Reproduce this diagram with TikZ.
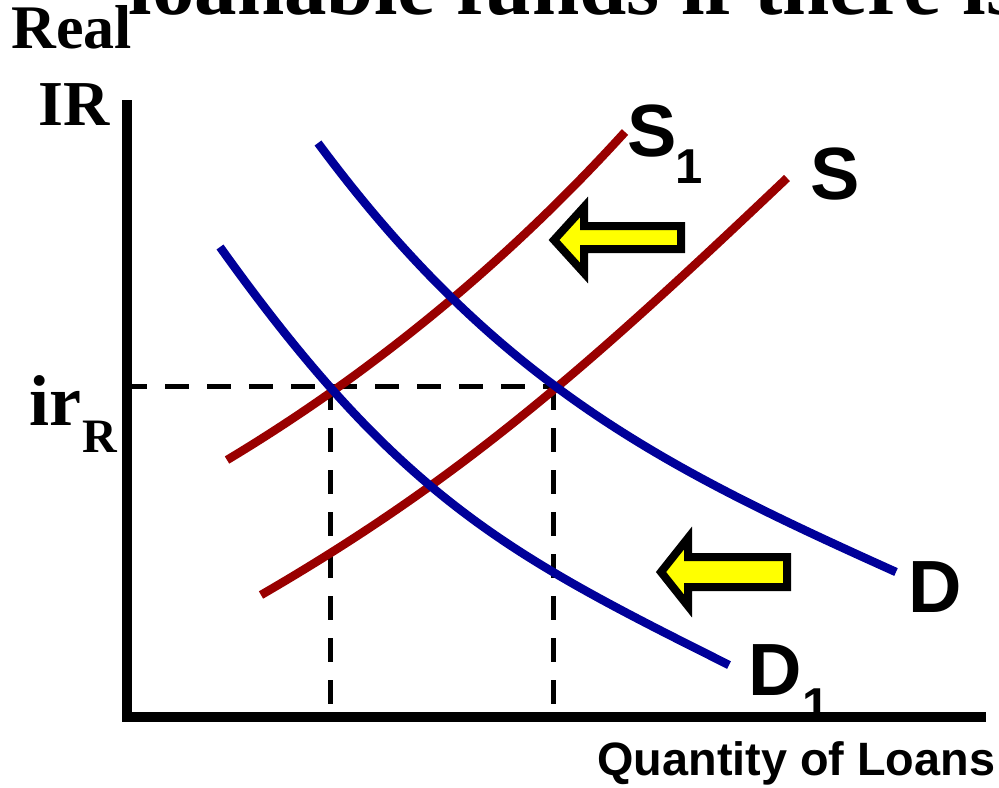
\documentclass[tikz,border=0pt]{standalone}
\usepackage{fontspec}
\setmainfont{Liberation Serif}
\setsansfont{Liberation Sans}
\definecolor{supred}{HTML}{990000}
\definecolor{demblue}{HTML}{000099}
\definecolor{arrowyellow}{HTML}{FFFF00}
\begin{document}
\begin{tikzpicture}[x=0.5pt,y=-0.5pt]
\tikzset{
  axisline/.style={line width=5pt, black},
  supcurve/.style={line width=4.25pt, supred},
  demcurve/.style={line width=4.25pt, demblue},
  guide/.style={line width=2.5pt, black, dash pattern=on 12pt off 9pt},
  shiftarrow/.style={fill=arrowyellow, draw=black, line width=4pt, line join=miter},
  sanlab/.style={font=\sffamily\bfseries\fontsize{37}{37}\selectfont, inner sep=0pt, anchor=base west},
  sansub/.style={font=\sffamily\bfseries\fontsize{24.5}{24.5}\selectfont, inner sep=0pt, anchor=base west},
}
\useasboundingbox (0,0) rectangle (999,787);
\clip (0,0) rectangle (999,787);
% title (cut off at top)
\node[font=\bfseries\fontsize{42.5}{42.5}\selectfont, inner sep=0pt, anchor=base west] (title) at (128,14) {loanable funds if there is};
% axis labels
\node[font=\bfseries\fontsize{31}{31}\selectfont, inner sep=0pt, anchor=base west] (real) at (11,48) {Real};
\node[font=\bfseries\fontsize{32}{32}\selectfont, inner sep=0pt, anchor=base west] (ir) at (38,125) {IR};
\node[font=\bfseries\fontsize{36}{36}\selectfont, inner sep=0pt, anchor=base west] (irr) at (29,425) {ir};
\node[font=\bfseries\fontsize{24}{24}\selectfont, inner sep=0pt, anchor=base west] (irsub) at (82,452) {R};
\node[font=\sffamily\bfseries\fontsize{23.4}{23.4}\selectfont, inner sep=0pt, anchor=base west] (qty) at (597,775) {Quantity of Loans};
% coordinates
\coordinate (ytop) at (127,100);
\coordinate (ybot) at (127,722);
\coordinate (xl) at (122,717);
\coordinate (xr) at (986,717);
\coordinate (e1) at (330,386);
\coordinate (e2) at (553,386);
\coordinate (yirr) at (131,386);
\coordinate (b1) at (330,712);
\coordinate (b2) at (553,712);
% dashed guides
\draw[guide, dash phase=4pt] (yirr) -- (e2);
\draw[guide] (e1) -- (b1);
\draw[guide] (e2) -- (b2);
% curves
\draw[supcurve] (227,460) .. controls (357,382) and (495,275) .. (625,132);
\draw[supcurve] (261,595) .. controls (461,479) and (587,368) .. (787,178);
\draw[demcurve] (318,143) .. controls (498,386) and (666,468.5) .. (896,572);
\draw[demcurve] (220,247) .. controls (400,499) and (509,555) .. (729,665);
% curve labels
\node[sanlab] (s1) at (627,156) {S};
\node[sansub] (s1sub) at (675,183) {1};
\node[sanlab] (s) at (810,199) {S};
\node[sanlab] (d) at (908,612) {D};
\node[sanlab] (d1) at (748,695) {D};
\node[sansub] (d1sub) at (802,722) {1};
% axes
\draw[axisline] (ytop) -- (ybot);
\draw[axisline] (xl) -- (xr);
% shift arrows
\draw[shiftarrow] (554,240) -- (584,207) -- (584,226) -- (681,226) -- (681,249) -- (584,249) -- (584,273) -- cycle;
\draw[shiftarrow] (661,572) -- (688,538) -- (688,557) -- (787,557) -- (787,587) -- (688,587) -- (688,606) -- cycle;
\end{tikzpicture}
\end{document}
